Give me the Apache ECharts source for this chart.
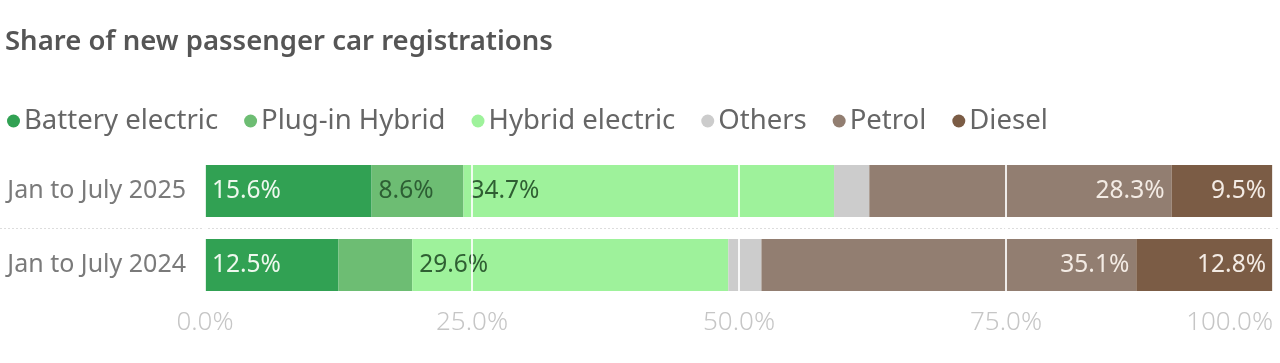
<!DOCTYPE html>
<html><head><meta charset="utf-8">
<script src="https://cdn.jsdelivr.net/npm/echarts@6/dist/echarts.min.js"></script>
<style>html,body{margin:0;padding:0;background:#fff}#c{width:1280px;height:363px}</style>
</head><body><div id="c"></div>
<script>
const categories = ['Jan to July 2025', 'Jan to July 2024'];
const seriesNames = ['Battery electric', 'Plug-in Hybrid', 'Hybrid electric', 'Others', 'Petrol', 'Diesel'];
const batteryElectric = [15.6, 12.5];
const plugInHybrid = [8.6, 6.9];
const hybridElectric = [34.7, 29.6];
const others = [3.3, 3.1];
const petrol = [28.3, 35.1];
const diesel = [9.5, 12.8];
const xTicks = [0, 25, 50, 75, 100];

const colors = ['#31a153', '#6dbd73', '#9ef29b', '#cccccc', '#927e71', '#7b5c45'];
const labelColors = ['#eef8ee', '#2d5f34', '#2f5f33', '#555', '#f3ebe4', '#f3ebe4'];
const labelPos = ['insideLeft', 'insideLeft', 'insideLeft', 'insideLeft', 'insideRight', 'insideRight'];
const values = [batteryElectric, plugInHybrid, hybridElectric, others, petrol, diesel];
const FONT = '"Noto Sans", "Open Sans", sans-serif';

const chart = echarts.init(document.getElementById('c'));
const series = seriesNames.map((name, i) => ({
  name, type: 'bar', stack: 'total', barWidth: 52,
  data: values[i],
  itemStyle: { color: colors[i] },
  label: {
    show: i !== 3, position: labelPos[i],
    distance: 7,
    color: labelColors[i], fontSize: 24.5, fontFamily: FONT,
    formatter: p => p.value >= 8 ? p.value.toFixed(1) + '%' : ''
  }
}));

chart.setOption({
  animation: false,
  backgroundColor: '#fff',
  title: {
    text: 'Share of new passenger car registrations', left: 0, top: 23,
    textStyle: { fontFamily: FONT, fontSize: 27.5, fontWeight: 600, color: '#555' }
  },
  legend: {
    left: 2, top: 102, icon: 'circle', itemWidth: 13, itemHeight: 13, itemGap: 26,
    textStyle: { fontFamily: FONT, fontSize: 27.5, color: '#666', padding: [0, 0, 0, -1] },
    data: seriesNames
  },
  grid: { left: 205, right: 7, top: 154, bottom: 61, containLabel: false },
  xAxis: {
    type: 'value', min: 0, max: 100, interval: 25, z: 10,
    axisLine: { show: false }, axisTick: { show: false },
    splitLine: { show: true, lineStyle: { color: 'rgba(255,255,255,0.85)', width: 2 } },
    axisLabel: {
      margin: 8, color: '#c6c6c6', fontSize: 26, fontFamily: FONT, fontWeight: 300,
      alignMaxLabel: 'right',
      formatter: v => xTicks.includes(v) ? v.toFixed(1) + '%' : ''
    }
  },
  yAxis: {
    type: 'category', data: categories, inverse: true,
    axisLine: { show: false }, axisTick: { show: false },
    axisLabel: { margin: 19, color: '#7a7a7a', fontSize: 25, fontFamily: FONT }
  },
  series
});

const y0 = chart.convertToPixel({ yAxisIndex: 0 }, 0);
const y1 = chart.convertToPixel({ yAxisIndex: 0 }, 1);
const ym = Math.round((y0 + y1) / 2) + 0.5;
chart.setOption({
  graphic: [{
    type: 'line', z: 0, silent: true,
    shape: { x1: 0, y1: ym, x2: 1280, y2: ym },
    style: { stroke: '#dddddd', lineWidth: 1, lineDash: [2, 2] }
  }]
});
</script></body></html>
